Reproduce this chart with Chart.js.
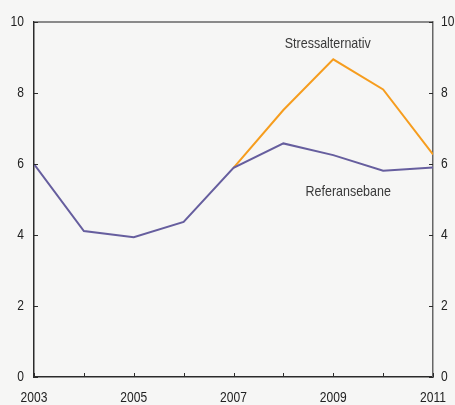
<!DOCTYPE html>
<html>
<head>
<meta charset="utf-8">
<script src="https://cdn.jsdelivr.net/npm/chart.js@4"></script>
<style>
  html, body { margin: 0; padding: 0; background: #f6f6f5; }
  #wrap { width: 455px; height: 405px; position: relative; }
</style>
</head>
<body>
<div id="wrap"><canvas id="c" width="455" height="405"></canvas></div>
<script>
// Years on the horizontal axis
const years = [2003, 2004, 2005, 2006, 2007, 2008, 2009, 2010, 2011];
// Baseline path (Referansebane)
const referansebane = [6.0, 4.11, 3.94, 4.37, 5.89, 6.58, 6.25, 5.81, 5.9];
// Stress scenario (Stressalternativ), starts from 2007
const stressalternativ = [null, null, null, null, 5.89, 7.52, 8.95, 8.1, 6.27];
// Axis tick labels
const yTicks = [0, 2, 4, 6, 8, 10];
const xLabelYears = [2003, 2005, 2007, 2009, 2011];

const FONT = "'Liberation Sans', Arial, sans-serif";
const AXIS = '#2b2b2b';
const SQUEEZE = 0.86; // horizontal condensing of all text

const toPoints = vals => years.map((y, i) => ({ x: y, y: vals[i] }));

// Condensed text helper
function narrowText(ctx, text, x, y, align) {
  ctx.save();
  ctx.translate(x, y);
  ctx.scale(SQUEEZE, 1);
  ctx.textAlign = align;
  ctx.fillText(text, 0, 0);
  ctx.restore();
}

// Inward tick marks, frame, tick labels and series labels
const decor = {
  id: 'decor',
  afterDraw(chart) {
    const { ctx, chartArea: a, scales } = chart;
    const x = scales.x, yl = scales.y, yr = scales.y2;
    ctx.save();
    ctx.strokeStyle = '#666';
    ctx.lineWidth = 1.5;
    ctx.beginPath();
    ctx.moveTo(a.left, a.top);
    ctx.lineTo(a.right, a.top);
    ctx.stroke();

    ctx.strokeStyle = AXIS;
    ctx.lineWidth = 1;
    ctx.beginPath();
    years.forEach(yr0 => {
      const px = Math.round(x.getPixelForValue(yr0)) + 0.5;
      ctx.moveTo(px, a.bottom);
      ctx.lineTo(px, a.bottom - 4);
    });
    yTicks.forEach(v => {
      const py = Math.round(yl.getPixelForValue(v)) + 0.5;
      ctx.moveTo(a.left, py);
      ctx.lineTo(a.left + 4, py);
      const pr = Math.round(yr.getPixelForValue(v)) + 0.5;
      ctx.moveTo(a.right, pr);
      ctx.lineTo(a.right - 4, pr);
    });
    ctx.stroke();

    // tick labels
    ctx.fillStyle = '#222';
    ctx.font = '14px ' + FONT;
    ctx.textBaseline = 'middle';
    yTicks.forEach(v => {
      narrowText(ctx, String(v), a.left - 10, yl.getPixelForValue(v) + 0.5, 'right');
      narrowText(ctx, String(v), a.right + 8, yr.getPixelForValue(v) + 0.5, 'left');
    });
    xLabelYears.forEach(v => {
      narrowText(ctx, String(v), x.getPixelForValue(v), a.bottom + 21, 'center');
    });

    // series labels
    ctx.fillStyle = '#3a3a3a';
    ctx.font = '14.5px ' + FONT;
    narrowText(ctx, 'Stressalternativ', x.getPixelForValue(2008.89), yl.getPixelForValue(9.38), 'center');
    narrowText(ctx, 'Referansebane', x.getPixelForValue(2009.3), yl.getPixelForValue(5.2), 'center');
    ctx.restore();
  }
};

const hiddenTicks = { display: false };

new Chart(document.getElementById('c'), {
  type: 'line',
  data: {
    datasets: [
      {
        label: 'Referansebane',
        data: toPoints(referansebane),
        borderColor: '#665e9e',
        borderWidth: 2,
        pointRadius: 0,
        tension: 0,
        yAxisID: 'y'
      },
      {
        label: 'Stressalternativ',
        data: toPoints(stressalternativ),
        borderColor: '#f69d1e',
        borderWidth: 2,
        pointRadius: 0,
        tension: 0,
        spanGaps: false,
        yAxisID: 'y'
      }
    ]
  },
  options: {
    responsive: false,
    animation: false,
    events: [],
    layout: { padding: { top: 22, right: 22, left: 34, bottom: 28 } },
    plugins: { legend: { display: false }, tooltip: { enabled: false } },
    scales: {
      x: {
        type: 'linear',
        min: 2003,
        max: 2011,
        grid: { display: false, drawTicks: false },
        border: { display: true, color: AXIS, width: 1.5 },
        ticks: hiddenTicks,
        afterFit: s => { s.height = 0; }
      },
      y: {
        position: 'left',
        min: 0,
        max: 10,
        grid: { display: false, drawTicks: false },
        border: { display: true, color: AXIS, width: 1.5 },
        ticks: hiddenTicks,
        afterFit: s => { s.width = 0; }
      },
      y2: {
        position: 'right',
        min: 0,
        max: 10,
        grid: { display: false, drawTicks: false },
        border: { display: true, color: '#666', width: 1.5 },
        ticks: hiddenTicks,
        afterFit: s => { s.width = 0; }
      }
    }
  },
  plugins: [decor]
});
</script>
</body>
</html>
